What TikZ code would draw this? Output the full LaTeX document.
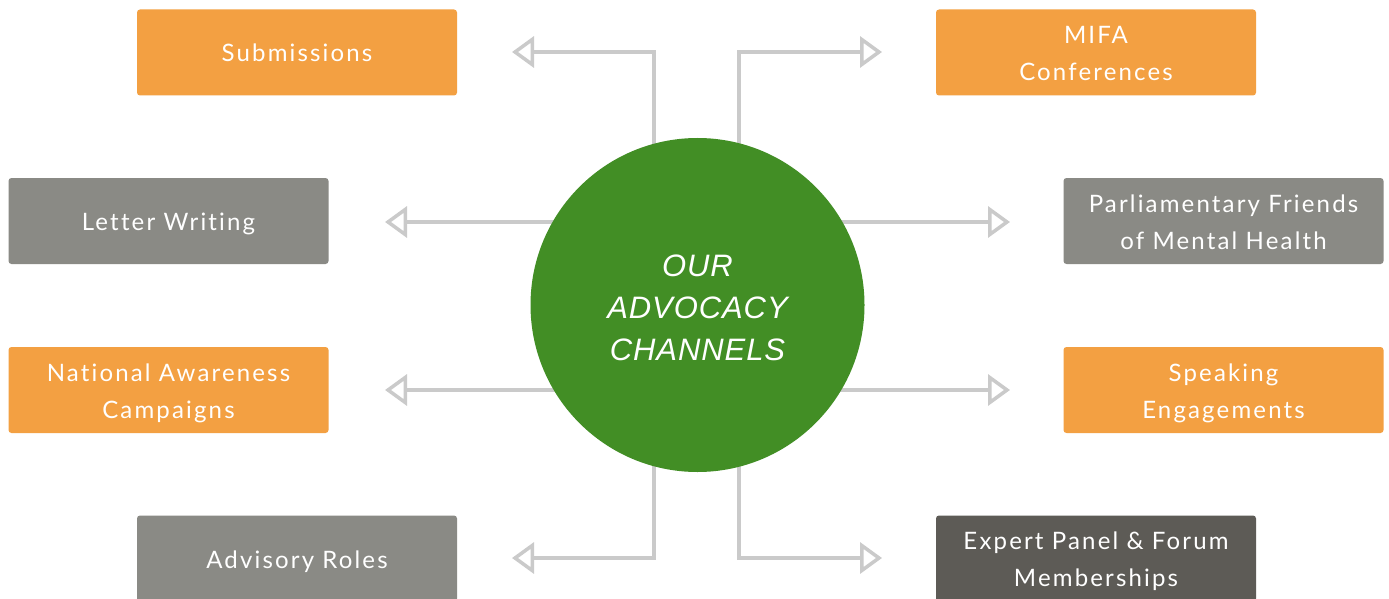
\documentclass[tikz,border=0pt]{standalone}
\usepackage{fontspec}
\setmainfont{Lato}[LetterSpace=9, Ligatures=NoCommon]
\newfontfamily\centerfont{Liberation Sans}[LetterSpace=3]
\usetikzlibrary{arrows.meta,backgrounds,calc}
\definecolor{boxorange}{HTML}{F3A042}
\definecolor{boxgray}{HTML}{8A8A85}
\definecolor{boxdark}{HTML}{5D5B56}
\definecolor{hubgreen}{HTML}{428E25}
\definecolor{conngray}{HTML}{CACACA}
\begin{document}
\begin{tikzpicture}[x=1pt,y=-1pt,
  chanbox/.style={rectangle, rounded corners=3pt, minimum width=320pt, minimum height=86pt,
    inner sep=0pt},
  lbl/.style={text=white, align=center, font=\fontsize{24}{37}\selectfont, yshift=-3pt},
  conn/.style={draw=conngray, line width=3.5pt, line join=miter,
    -{Triangle[open, length=22pt, width=31pt, line join=miter]}}]
\useasboundingbox (0,0) rectangle (1389,599);
\node[circle, fill=hubgreen, minimum size=334pt, inner sep=0pt,
  label={[text=white, align=center, yshift=-3pt,
  font=\centerfont\itshape\fontsize{31}{42}\selectfont]center:{OUR\\ADVOCACY\\CHANNELS}}]
  (hub) at (697.5,305) {};
\node[chanbox, fill=boxorange, label={[lbl, yshift=3pt]center:Submissions}] (sub) at (297,52.5) {};
\node[chanbox, fill=boxorange, label={[lbl, yshift=2pt]center:{MIFA\\Conferences}}] (mifa) at (1096,52.5) {};
\node[chanbox, fill=boxgray, label={[lbl]center:Letter Writing}] (letter) at (168.5,221) {};
\node[chanbox, fill=boxorange, label={[lbl]center:{National Awareness\\Campaigns}}] (nat) at (168.5,390) {};
\node[chanbox, fill=boxgray, label={[lbl, yshift=1.5pt]center:{Parliamentary Friends\\of Mental Health}}] (parl) at (1223.5,221) {};
\node[chanbox, fill=boxorange, label={[lbl]center:{Speaking\\Engagements}}] (speak) at (1223.5,390) {};
\node[chanbox, fill=boxgray, label={[lbl]center:Advisory Roles}] (adv) at (297,558.5) {};
\node[chanbox, fill=boxdark, label={[lbl]center:{Expert Panel \& Forum\\Memberships}}] (exp) at (1096,558.5) {};
\coordinate (tsub) at (512,52);
\coordinate (tmifa) at (882,52);
\coordinate (tletter) at (385,222);
\coordinate (tnat) at (385,390);
\coordinate (tparl) at (1010,222);
\coordinate (tspeak) at (1010,390);
\coordinate (tadv) at (512,558);
\coordinate (texp) at (882,558);
\begin{scope}[on background layer]
\fill[white] (0,0) rectangle (1389,599);
\draw[conn] ($(hub.center)+(-43.5,0)$) |- (tsub);
\draw[conn] ($(hub.center)+(41.5,0)$) |- (tmifa);
\draw[conn] ($(hub.center)+(0,-83)$) -- (tletter);
\draw[conn] ($(hub.center)+(0,85)$) -- (tnat);
\draw[conn] ($(hub.center)+(0,-83)$) -- (tparl);
\draw[conn] ($(hub.center)+(0,85)$) -- (tspeak);
\draw[conn] ($(hub.center)+(-43.5,0)$) |- (tadv);
\draw[conn] ($(hub.center)+(41.5,0)$) |- (texp);
\end{scope}
\end{tikzpicture}
\end{document}
